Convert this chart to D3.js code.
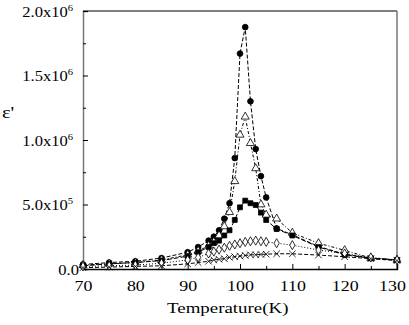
<!DOCTYPE html>
<html>
<head>
<meta charset="utf-8">
<script src="https://d3js.org/d3.v7.min.js"></script>
<style>
  body { margin: 0; background: #fff; }
  svg text { font-family: "Liberation Serif", "Times New Roman", serif; fill: #000; }
</style>
</head>
<body>
<div id="graphic"></div>
<script>
// temperatures (K)
var temps = [70, 75, 80, 85, 90, 92, 94, 95, 96, 97, 98, 99, 100, 101, 102, 103, 104, 105, 107, 110, 115, 120, 125, 130];

// permittivity values (units of 1e6), one array per curve
var circles   = [0.035, 0.05, 0.06, 0.085, 0.13, 0.17, 0.22, 0.25, 0.30, 0.39, 0.51, 0.86, 1.67, 1.875, 1.30, 0.93, 0.72, 0.555, 0.315, 0.265, 0.175, 0.115, 0.085, 0.07];
var triangles = [0.03, 0.04, 0.05, 0.07, 0.11, 0.14, 0.18, 0.21, 0.26, 0.33, 0.44, 0.68, 1.04, 1.18, 0.975, 0.78, 0.50, 0.42, 0.39, 0.28, 0.20, 0.145, 0.085, 0.07];
var squares   = [0.025, 0.04, 0.05, 0.065, 0.10, 0.13, 0.17, 0.20, 0.22, 0.26, 0.30, 0.38, 0.478, 0.53, 0.51, 0.496, 0.437, 0.38, 0.31, 0.26, 0.17, 0.11, 0.083, 0.07];
var diamonds  = [0.02, 0.025, 0.03, 0.045, 0.07, 0.09, 0.12, 0.135, 0.15, 0.165, 0.18, 0.19, 0.20, 0.21, 0.215, 0.22, 0.215, 0.21, 0.20, 0.185, 0.147, 0.12, 0.09, 0.07];
var crosses   = [0.01, 0.015, 0.02, 0.025, 0.04, 0.05, 0.06, 0.07, 0.075, 0.08, 0.09, 0.095, 0.10, 0.105, 0.11, 0.11, 0.113, 0.115, 0.118, 0.118, 0.108, 0.095, 0.08, 0.065];

var xTicks = [70, 80, 90, 100, 110, 120, 130];
var xMinor = [75, 85, 95, 105, 115, 125];
var yTicks = [0, 0.5, 1.0, 1.5, 2.0];
var yMinor = [0.25, 0.75, 1.25, 1.75];
var yTickLabels = [["0.0", ""], ["5.0x10", "5"], ["1.0x10", "6"], ["1.5x10", "6"], ["2.0x10", "6"]];

var series = [
  { values: circles,   marker: "circle",   dash: "4,2" },
  { values: triangles, marker: "triangle", dash: "3,2,1,2" },
  { values: squares,   marker: "square",   dash: "5,2" },
  { values: diamonds,  marker: "diamond",  dash: "1,2" },
  { values: crosses,   marker: "cross",    dash: "4,2" }
];

var margin = { top: 11, right: 12, bottom: 56, left: 83 };
var width = 409 - margin.left - margin.right,
    height = 325 - margin.top - margin.bottom;

var svg = d3.select("#graphic").append("svg")
    .attr("width", 409)
    .attr("height", 325)
  .append("g")
    .attr("transform", "translate(" + margin.left + "," + margin.top + ")");

var x = d3.scaleLinear().domain([70, 130]).range([0, width]);
var y = d3.scaleLinear().domain([0, 2.0]).range([height, 0]);

// frame
svg.append("line").attr("x1", 0).attr("x2", width).attr("y1", 0).attr("y2", 0)
    .attr("stroke", "#000").attr("stroke-width", 1.2);
svg.append("line").attr("x1", width).attr("x2", width).attr("y1", 0).attr("y2", height)
    .attr("stroke", "#777").attr("stroke-width", 1.5);

// x axis
var gx = svg.append("g")
    .attr("transform", "translate(0," + height + ")")
    .call(d3.axisBottom(x).tickValues(xTicks).tickSize(-5).tickPadding(12).tickFormat(d3.format("d")));
gx.select(".domain").attr("stroke", "#000").attr("stroke-width", 1.5);
gx.selectAll(".tick text")
    .attr("font-size", 14)
    .attr("x", 0).attr("dy", "0.71em")
    .attr("transform", function (d) { return (d === 130 ? "translate(-5,0) " : "") + "scale(1.28,1)"; });
svg.append("g")
    .attr("transform", "translate(0," + height + ")")
    .call(d3.axisBottom(x).tickValues(xMinor).tickSize(-3).tickFormat(""))
    .select(".domain").remove();

// y axis
var gy = svg.append("g")
    .call(d3.axisLeft(y).tickValues(yTicks).tickSize(-5).tickPadding(0).tickFormat(""));
gy.select(".domain").attr("stroke", "#777").attr("stroke-width", 1.5);
gy.selectAll(".tick").each(function (d, i) {
  var lab = yTickLabels[i];
  var t = d3.select(this).append("text")
      .attr("font-size", 14)
      .attr("text-anchor", "end")
      .attr("transform", "translate(" + (lab[1] ? -10 : -4) + ",5) scale(1.18,1)");
  t.append("tspan").text(lab[0]);
  if (lab[1]) {
    t.append("tspan").attr("font-size", 9).attr("dy", -6).text(lab[1]);
  }
});
svg.append("g")
    .call(d3.axisLeft(y).tickValues(yMinor).tickSize(-3).tickFormat(""))
    .select(".domain").remove();

// axis titles
svg.append("text")
    .attr("transform", "translate(" + (x(99) - 7) + "," + (height + 44) + ") scale(1.35,1)")
    .attr("text-anchor", "middle")
    .attr("font-size", 14)
    .text("Temperature(K)");
svg.append("text")
    .attr("transform", "translate(" + (-81) + "," + 107 + ") scale(1.2,1)")
    .attr("font-size", 17)
    .text("ε'");

// curves
var line = d3.line()
    .x(function (d, i) { return x(temps[i]); })
    .y(function (d) { return y(d); });

series.forEach(function (s) {
  svg.append("path")
      .datum(s.values)
      .attr("fill", "none")
      .attr("stroke", "#000")
      .attr("stroke-width", 1)
      .attr("stroke-dasharray", s.dash)
      .attr("d", line);
});

var sym = {
  circle: d3.symbol().type(d3.symbolCircle).size(26),
  triangle: d3.symbol().type(d3.symbolTriangle).size(28),
  square: d3.symbol().type(d3.symbolSquare).size(24),
  diamond: d3.symbol().type(d3.symbolDiamond).size(24),
  cross: d3.symbol().type(d3.symbolX).size(30)
};

series.forEach(function (s) {
  var filled = s.marker === "circle" || s.marker === "square";
  svg.append("g").selectAll("path")
      .data(s.values)
      .enter().append("path")
      .attr("transform", function (d, i) { return "translate(" + x(temps[i]) + "," + y(d) + ")"; })
      .attr("d", sym[s.marker])
      .attr("fill", filled ? "#000" : "#fff")
      .attr("stroke", "#000")
      .attr("stroke-width", 0.8);
});
</script>
</body>
</html>
